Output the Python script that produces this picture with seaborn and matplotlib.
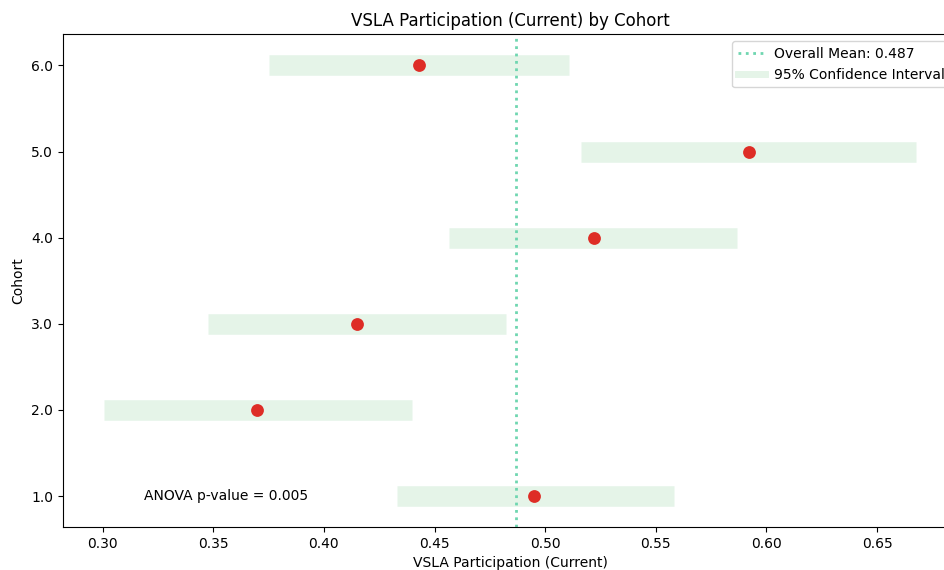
import numpy as np
import pandas as pd
import matplotlib
matplotlib.use("Agg")
import matplotlib.pyplot as plt
import seaborn as sns
from matplotlib.lines import Line2D

# data
cohorts = [1.0, 2.0, 3.0, 4.0, 5.0, 6.0]
means = [0.495, 0.370, 0.415, 0.522, 0.592, 0.443]
ci_low = [0.433, 0.3005, 0.3475, 0.4567, 0.5164, 0.3754]
ci_high = [0.558, 0.4396, 0.4825, 0.5868, 0.6677, 0.5109]
overall_mean = 0.487
p_value = 0.005

df = pd.DataFrame({"cohort": cohorts, "mean": means, "lo": ci_low, "hi": ci_high})

ci_color = "#e5f4e8"
line_color = "#6fd6b0"
dot_color = "#de2d26"

fig = plt.figure(figsize=(9.44, 5.7), dpi=100)
ax = fig.add_axes([0.0667, 0.0754, 0.9471, 0.8641])

# confidence interval bands
ax.hlines(df["cohort"], df["lo"], df["hi"], color=ci_color, linewidth=14.8, zorder=1)

# overall mean
ax.axvline(overall_mean, color=line_color, linestyle=":", linewidth=2, zorder=2)

# cohort means
sns.scatterplot(data=df, x="mean", y="cohort", color=dot_color, s=85,
                linewidth=0, zorder=3, ax=ax)

ax.set_xlim(0.2821, 0.6861)
ax.set_ylim(0.64, 6.36)
ax.set_xticks([0.30, 0.35, 0.40, 0.45, 0.50, 0.55, 0.60, 0.65])
ax.set_yticks(cohorts)
ax.set_yticklabels([f"{c:.1f}" for c in cohorts])

ax.set_title("VSLA Participation (Current) by Cohort")
ax.set_xlabel("VSLA Participation (Current)")
ax.set_ylabel("Cohort")

ax.text(0.3185, 1.0, f"ANOVA p-value = {p_value:.3f}", ha="left", va="center")

handles = [
    Line2D([0], [0], color=line_color, linestyle=":", linewidth=2),
    Line2D([0], [0], color=ci_color, linewidth=5),
]
ax.legend(handles, [f"Overall Mean: {overall_mean:.3f}", "95% Confidence Interval"],
          loc="upper right", handletextpad=0.6)

fig.savefig("out.png", dpi=100)
